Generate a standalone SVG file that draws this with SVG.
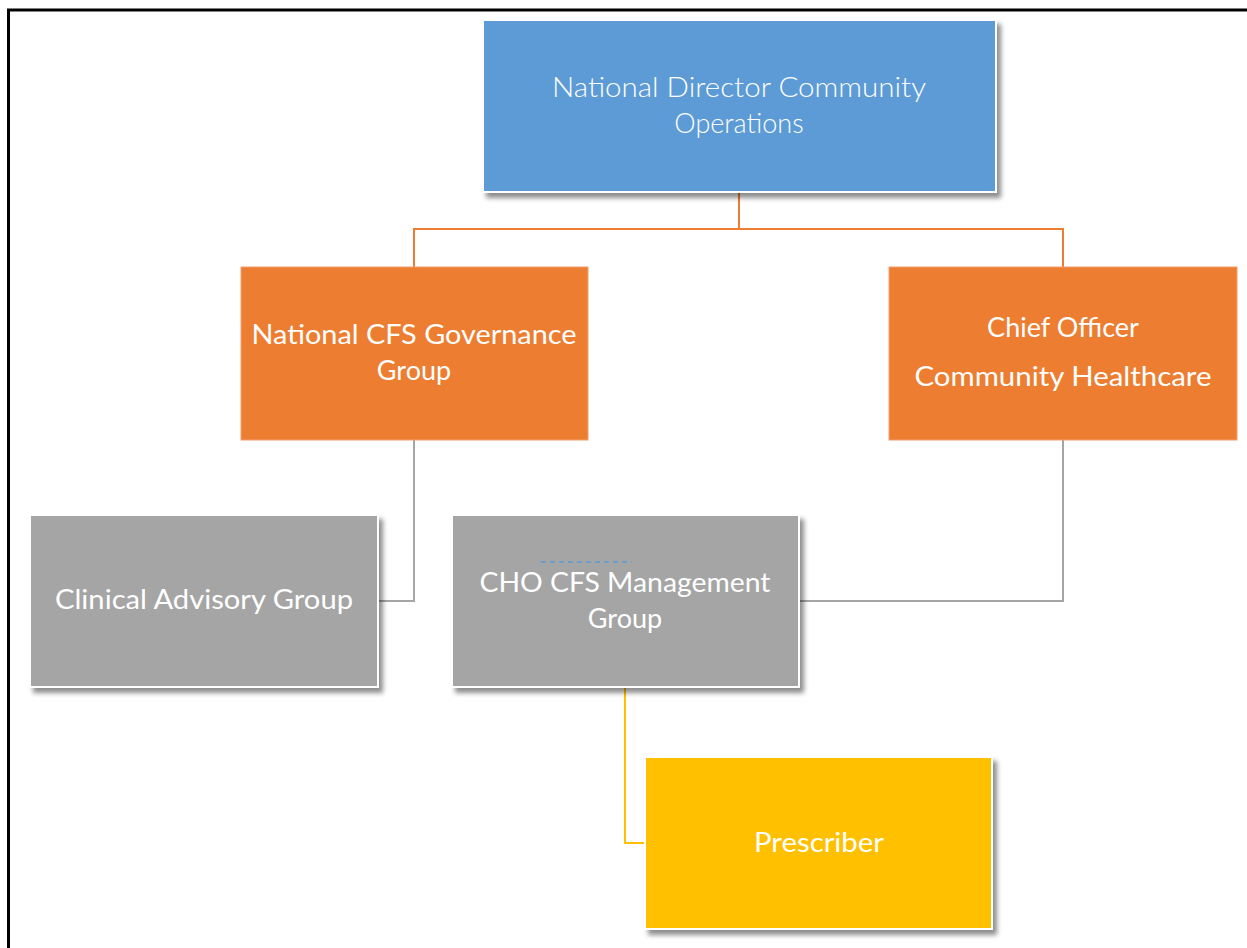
<svg xmlns="http://www.w3.org/2000/svg" width="1247" height="948" viewBox="0 0 1247 948">
  <style>
    .lbl { font-family: Lato, "Open Sans", "Liberation Sans", sans-serif; fill: #ffffff; text-anchor: middle; }
    .light { font-weight: 300; }
    .orange-link { fill: none; stroke: #ed7d31; stroke-width: 2; }
    .grey-link { fill: none; stroke: #a5a5a5; stroke-width: 2; }
    .gold-link { fill: none; stroke: #ffc000; stroke-width: 2; }
    .card { stroke: #ffffff; stroke-width: 2; filter: url(#shadow); }
  </style>
  <defs>
    <filter id="shadow" x="-5%" y="-5%" width="115%" height="120%">
      <feGaussianBlur in="SourceAlpha" stdDeviation="2.5"/>
      <feOffset dx="4" dy="5" result="b"/>
      <feComponentTransfer><feFuncA type="linear" slope="0.45"/></feComponentTransfer>
      <feMerge><feMergeNode/><feMergeNode in="SourceGraphic"/></feMerge>
    </filter>
  </defs>

  <rect width="1247" height="948" fill="#ffffff"/>
  <!-- page frame: top and left edges -->
  <path d="M8.5 948 V10 H1247" fill="none" stroke="#000000" stroke-width="3"/>

  <g id="connectors">
    <path class="orange-link" d="M739 193 V229 M414 267 V229 H1063 V267"/>
    <path class="grey-link" d="M414 440 V601 H379"/>
    <path class="grey-link" d="M1063 440 V601 H800"/>
    <path class="gold-link" d="M625 688 V843 H645"/>
  </g>

  <g id="national-director">
    <rect class="card" x="483" y="20" width="513" height="172" fill="#5b9bd5"/>
    <text class="lbl light" x="739" y="97" font-size="27" textLength="374" lengthAdjust="spacingAndGlyphs">National Director Community</text>
    <text class="lbl light" x="739" y="133" font-size="27">Operations</text>
  </g>

  <g id="governance-group">
    <rect x="241" y="267" width="347" height="173" fill="#ed7d31" stroke="#f0a070" stroke-width="1"/>
    <text class="lbl" x="414" y="344" font-size="27" textLength="325" lengthAdjust="spacingAndGlyphs">National CFS Governance</text>
    <text class="lbl" x="414" y="380" font-size="27">Group</text>
  </g>

  <g id="chief-officer">
    <rect x="889" y="267" width="348" height="173" fill="#ed7d31" stroke="#f0a070" stroke-width="1"/>
    <text class="lbl" x="1063" y="337" font-size="27">Chief Officer</text>
    <text class="lbl" x="1063" y="386" font-size="27" textLength="297" lengthAdjust="spacingAndGlyphs">Community Healthcare</text>
  </g>

  <g id="clinical-advisory">
    <rect class="card" x="30" y="515" width="348" height="172" fill="#a5a5a5"/>
    <text class="lbl" x="204" y="609" font-size="27" textLength="298" lengthAdjust="spacingAndGlyphs">Clinical Advisory Group</text>
  </g>

  <g id="cho-management">
    <rect class="card" x="452" y="515" width="347" height="172" fill="#a5a5a5"/>
    <line x1="541" y1="562" x2="632" y2="562" stroke="#5b9bd5" stroke-width="1.5" stroke-dasharray="5 4"/>
    <text class="lbl" x="625" y="592" font-size="27" textLength="291" lengthAdjust="spacingAndGlyphs">CHO CFS Management</text>
    <text class="lbl" x="625" y="628" font-size="27">Group</text>
  </g>

  <g id="prescriber">
    <rect class="card" x="645" y="757" width="347" height="172" fill="#ffc000"/>
    <text class="lbl" x="819" y="852" font-size="27" textLength="130" lengthAdjust="spacingAndGlyphs">Prescriber</text>
  </g>
</svg>
